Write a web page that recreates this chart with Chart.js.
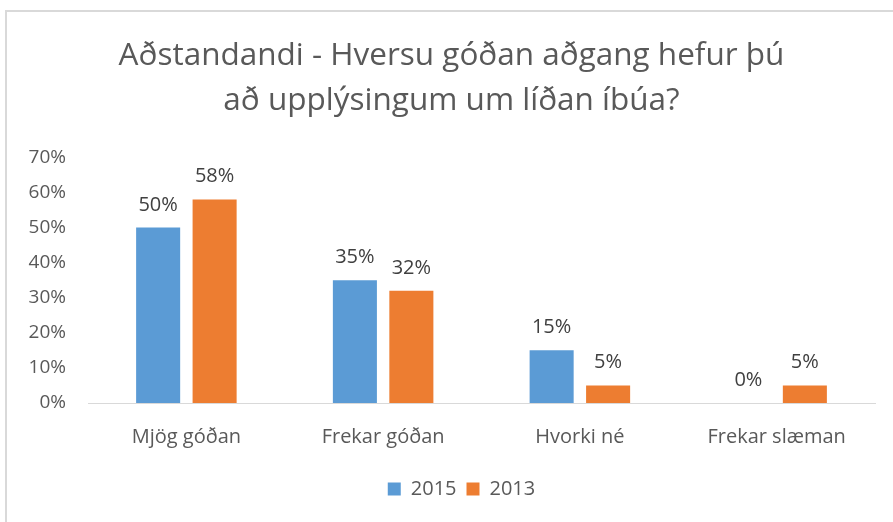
<!DOCTYPE html>
<html>
<head>
<meta charset="utf-8">
<script src="https://cdn.jsdelivr.net/npm/chart.js@4"></script>
<style>
  html, body { margin: 0; padding: 0; background: #fff; }
  #wrap { position: relative; width: 893px; height: 522px; }
  #frame { position: absolute; left: 5px; top: 10px; right: -4px; bottom: -4px; border: 2px solid #d9d9d9; }
  canvas { position: absolute; left: 0; top: 0; }
</style>
</head>
<body>
<div id="wrap">
  <div id="frame"></div>
  <canvas id="chart" width="893" height="522"></canvas>
</div>
<script>
// values (percent)
var categories = ["Mjög góðan", "Frekar góðan", "Hvorki né", "Frekar slæman"];
var values2015 = [50, 35, 15, 0];
var values2013 = [58, 32, 5, 5];
var yTicks = [0, 10, 20, 30, 40, 50, 60, 70];

var fontName = "'Open Sans', Lato, sans-serif";

// simple labels above each bar
var barLabels = {
    id: 'barLabels',
    afterLayout: function(chart) {
        // title and legend sit a bit right of the plot centre in the original
        chart.titleBlock.left += 14;
        chart.titleBlock.right += 14;
        chart.legend.left += 24;
        chart.legend.right += 24;
    },
    afterDatasetsDraw: function(chart) {
        var ctx = chart.ctx;
        ctx.save();
        ctx.font = '20px ' + fontName;
        ctx.fillStyle = '#404040';
        ctx.textAlign = 'center';
        ctx.textBaseline = 'alphabetic';
        chart.data.datasets.forEach(function(ds, i) {
            var meta = chart.getDatasetMeta(i);
            meta.data.forEach(function(bar, j) {
                ctx.fillText(ds.data[j] + '%', bar.x, bar.y - 17);
            });
        });
        ctx.restore();
    }
};

var ctx = document.getElementById('chart').getContext('2d');
var chart = new Chart(ctx, {
    type: 'bar',
    data: {
        labels: categories,
        datasets: [{
            label: '2015',
            data: values2015,
            backgroundColor: '#5B9BD5',
            categoryPercentage: 0.574,
            barPercentage: 0.78
        }, {
            label: '2013',
            data: values2013,
            backgroundColor: '#ED7D31',
            categoryPercentage: 0.574,
            barPercentage: 0.78
        }]
    },
    plugins: [barLabels],
    options: {
        responsive: false,
        animation: false,
        layout: { padding: { left: 0, right: 18, top: 0, bottom: 13 } },
        plugins: {
            title: {
                display: true,
                text: ['Aðstandandi - Hversu góðan aðgang hefur þú', 'að upplýsingum um líðan íbúa?'],
                color: '#595959',
                font: { family: fontName, size: 31.5, weight: 'normal', lineHeight: 1.45 },
                padding: { top: 33, bottom: 33 }
            },
            legend: {
                position: 'bottom',
                labels: {
                    color: '#595959',
                    font: { family: fontName, size: 20 },
                    boxWidth: 13,
                    boxHeight: 13,
                    padding: 10
                }
            },
            tooltip: { enabled: false }
        },
        scales: {
            x: {
                grid: { display: false, drawTicks: false },
                border: { display: true, color: '#d9d9d9', width: 1 },
                ticks: {
                    color: '#595959',
                    font: { family: fontName, size: 20 },
                    padding: 22
                },
                afterFit: function(scale) { scale.height = 66; }
            },
            y: {
                min: 0,
                max: 70,
                afterBuildTicks: function(scale) {
                    scale.ticks = yTicks.map(function(v) { return { value: v }; });
                },
                grid: { display: false, drawTicks: false },
                border: { display: false },
                ticks: {
                    color: '#595959',
                    font: { family: fontName, size: 19 },
                    padding: 22,
                    callback: function(v) { return v + '%'; }
                },
                afterFit: function(scale) { scale.width = 88; }
            }
        }
    }
});
</script>
</body>
</html>
